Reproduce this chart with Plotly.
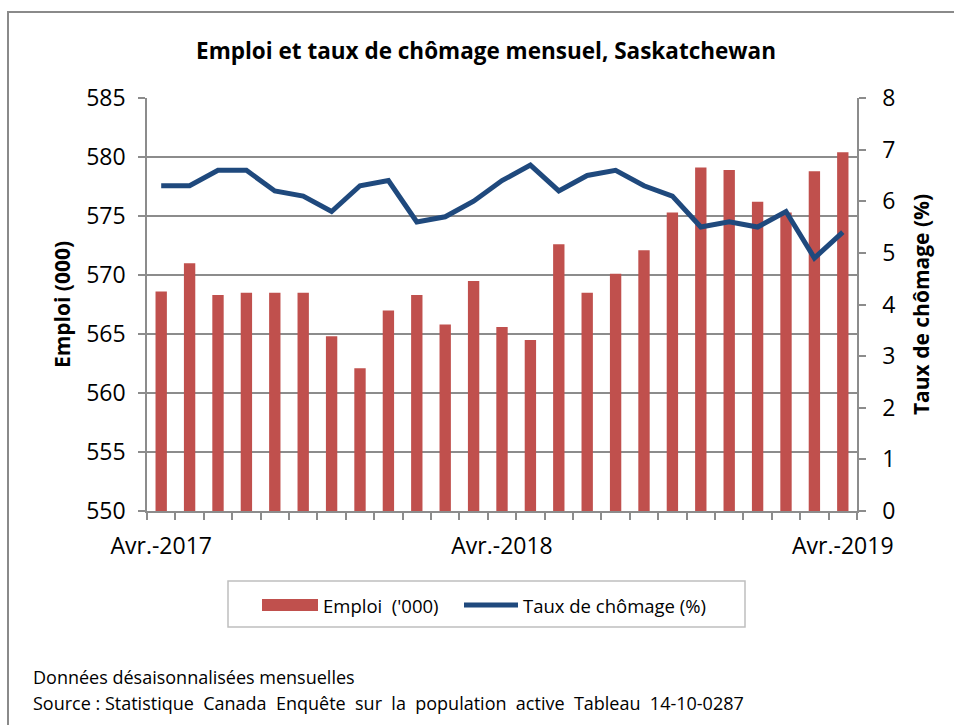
import plotly.graph_objects as go

months = ["2017-04","2017-05","2017-06","2017-07","2017-08","2017-09","2017-10","2017-11","2017-12",
          "2018-01","2018-02","2018-03","2018-04","2018-05","2018-06","2018-07","2018-08","2018-09",
          "2018-10","2018-11","2018-12","2019-01","2019-02","2019-03","2019-04"]
emploi = [568.6, 571.0, 568.3, 568.5, 568.5, 568.5, 564.8, 562.1, 567.0, 568.3, 565.8, 569.5, 565.6,
          564.5, 572.6, 568.5, 570.1, 572.1, 575.3, 579.1, 578.9, 576.2, 575.3, 578.8, 580.4]
chomage = [6.3, 6.3, 6.6, 6.6, 6.2, 6.1, 5.8, 6.3, 6.4, 5.6, 5.7, 6.0, 6.4,
           6.7, 6.2, 6.5, 6.6, 6.3, 6.1, 5.5, 5.6, 5.5, 5.8, 4.9, 5.4]
tick_months = ["2017-04", "2018-04", "2019-04"]
tick_labels = ["Avr.-2017", "Avr.-2018", "Avr.-2019"]

title = "Emploi et taux de chômage mensuel, Saskatchewan"
y1_title = "Emploi (000)"
y2_title = "Taux de chômage (%)"
legend_names = ["Emploi  ('000)", "Taux de chômage (%)"]
notes = ["Données désaisonnalisées mensuelles",
         "Source : Statistique  Canada  Enquête  sur  la  population  active  Tableau  14-10-0287"]

FONT = "Open Sans"
RED = "#C0504D"
BLUE = "#1F497D"
GRID = "#8C8C8C"

xpos = list(range(len(months)))
tickvals = [months.index(m) for m in tick_months]

# plot area in pixels
L, R, T, B = 147, 857, 98, 511
W, H = 954, 725
def px(x):
    return (x - L) / (R - L)
def py(y):
    return (B - y) / (B - T)

fig = go.Figure()
fig.add_trace(go.Bar(x=xpos, y=emploi, name=legend_names[0], marker=dict(color=RED, line=dict(width=0)),
                     width=0.4, showlegend=False))
fig.add_trace(go.Scatter(x=xpos, y=chomage, name=legend_names[1], yaxis="y2", mode="lines",
                         line=dict(color=BLUE, width=5), showlegend=False))

shapes = [
    # outer border
    dict(type="rect", xref="paper", yref="paper", x0=px(8), x1=px(1000), y0=py(800), y1=py(12),
         line=dict(color="#8A8A8A", width=2), fillcolor="rgba(0,0,0,0)", layer="below"),
    # legend box
    dict(type="rect", xref="paper", yref="paper", x0=px(228), x1=px(745), y0=py(627), y1=py(581),
         line=dict(color="#BFBFBF", width=1.5), fillcolor="white"),
    # legend red swatch
    dict(type="rect", xref="paper", yref="paper", x0=px(262), x1=px(318), y0=py(611), y1=py(599),
         line=dict(width=0), fillcolor=RED),
    # legend blue line
    dict(type="line", xref="paper", yref="paper", x0=px(464), x1=px(518), y0=py(605), y1=py(605),
         line=dict(color=BLUE, width=5)),
]

annotations = [
    dict(text=legend_names[0], xref="paper", yref="paper", x=px(321), y=py(605), xanchor="left",
         yanchor="middle", showarrow=False, font=dict(family=FONT, size=18.5, color="black")),
    dict(text=legend_names[1], xref="paper", yref="paper", x=px(521), y=py(605), xanchor="left",
         yanchor="middle", showarrow=False, font=dict(family=FONT, size=18.5, color="black")),
    dict(text=notes[0], xref="paper", yref="paper", x=px(31), y=py(677), xanchor="left",
         yanchor="middle", showarrow=False, font=dict(family=FONT, size=18, color="black")),
    dict(text=notes[1], xref="paper", yref="paper", x=px(31), y=py(703), xanchor="left",
         yanchor="middle", showarrow=False, font=dict(family=FONT, size=18, color="black")),
]

fig.update_layout(
    width=W, height=H,
    margin=dict(l=L, r=W - R, t=T, b=H - B, pad=0),
    paper_bgcolor="white", plot_bgcolor="white",
    font=dict(family=FONT, color="black"),
    title=dict(text="<b>" + title + "</b>", x=486 / W, xanchor="center", y=1 - 51 / H, yanchor="middle",
               font=dict(family=FONT, size=22.5, color="black")),
    xaxis=dict(range=[-0.5, len(months) - 0.5], tickmode="array", tickvals=tickvals, ticktext=tick_labels,
               ticks="", showgrid=False, showline=True, linecolor=GRID, linewidth=1.5,
               tickfont=dict(family=FONT, size=23), ticklabelstandoff=14,
               minor=dict(tickmode="linear", tick0=-0.5, dtick=1, ticks="outside", ticklen=7,
                          tickcolor=GRID, tickwidth=1.5, showgrid=False),
               zeroline=False, fixedrange=True),
    yaxis=dict(range=[550, 585], dtick=5, tick0=550, showgrid=True, gridcolor=GRID, gridwidth=1.5,
               showline=True, linecolor=GRID, linewidth=1.5, ticks="outside", ticklen=7,
               tickcolor=GRID, tickwidth=1.5, tickfont=dict(family=FONT, size=23),
               ticklabelstandoff=8, zeroline=False,
               title=dict(text="<b>" + y1_title + "</b>", font=dict(family=FONT, size=21), standoff=10)),
    yaxis2=dict(range=[0, 8], dtick=1, overlaying="y", side="right", showgrid=False,
                showline=True, linecolor=GRID, linewidth=1.5, ticks="outside", ticklen=7,
                tickcolor=GRID, tickwidth=1.5, tickfont=dict(family=FONT, size=23),
                ticklabelstandoff=12, zeroline=False,
                title=dict(text="<b>" + y2_title + "</b>", font=dict(family=FONT, size=21), standoff=20)),
    shapes=shapes, annotations=annotations,
    bargap=0.6,
)

fig.write_html("out.html")
